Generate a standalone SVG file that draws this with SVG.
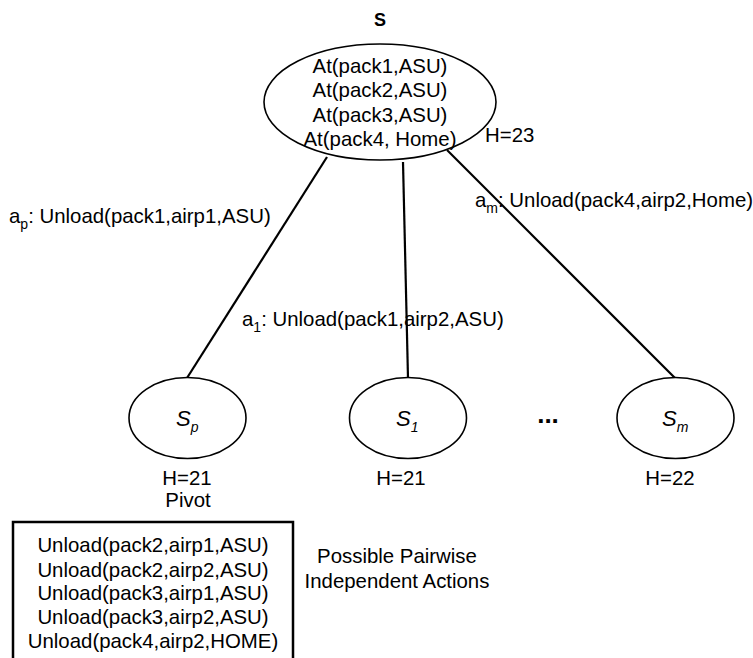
<svg xmlns="http://www.w3.org/2000/svg" width="753" height="658" viewBox="0 0 753 658">
  <style>
    text { font-family: "Liberation Sans", Arial, Helvetica, sans-serif; fill: #000; }
    .t { font-size: 20.4px; }
    .c { text-anchor: middle; }
    .node { fill: #fff; stroke: #000; stroke-width: 1.6; }
    .edge { stroke: #000; stroke-width: 2.2; fill: none; }
    .lbl { font-size: 22px; font-style: italic; }
    .sub { font-size: 14px; font-style: italic; }
  </style>
  <rect width="753" height="658" fill="#fff"/>

  <!-- connectors -->
  <g id="connectors">
    <line class="edge" x1="327" y1="157" x2="187" y2="378"/>
    <line class="edge" x1="403" y1="162" x2="408" y2="378"/>
    <line class="edge" x1="447" y1="150" x2="675" y2="378"/>
  </g>

  <!-- root state -->
  <g id="node-s">
    <text x="380" y="26" class="c" font-size="18" font-weight="bold">S</text>
    <ellipse class="node" cx="380" cy="102" rx="116" ry="58" fill="none"/>
    <text class="t c" x="380" y="73">At(pack1,ASU)</text>
    <text class="t c" x="380" y="97">At(pack2,ASU)</text>
    <text class="t c" x="380" y="122">At(pack3,ASU)</text>
    <text class="t c" x="380" y="146">At(pack4, Home)</text>
    <text class="t" x="485" y="142">H=23</text>
  </g>

  <!-- action labels -->
  <g id="edge-labels">
    <text class="t" x="9" y="223">a<tspan font-size="14" dy="6">p</tspan><tspan dy="-6">: Unload(pack1,airp1,ASU)</tspan></text>
    <text class="t" x="475" y="207">a<tspan font-size="14" dy="6">m</tspan><tspan dy="-6">: Unload(pack4,airp2,Home)</tspan></text>
    <text class="t" x="242" y="326">a<tspan font-size="14" dy="6">1</tspan><tspan dy="-6">: Unload(pack1,airp2,ASU)</tspan></text>
  </g>

  <!-- child states -->
  <g id="node-sp">
    <ellipse class="node" cx="187.5" cy="418" rx="58.5" ry="40.5"/>
    <text x="176" y="426" class="lbl">S<tspan class="sub" dy="6">p</tspan></text>
    <text class="t c" x="187" y="485">H=21</text>
    <text class="t c" x="188" y="507">Pivot</text>
  </g>

  <g id="node-s1">
    <ellipse class="node" cx="408" cy="418" rx="58.5" ry="40.5"/>
    <text x="396" y="426" class="lbl">S<tspan class="sub" dy="6">1</tspan></text>
    <text class="t c" x="401" y="485">H=21</text>
  </g>

  <text x="548" y="423" class="c" font-size="26" font-weight="bold">...</text>

  <g id="node-sm">
    <ellipse class="node" cx="675.5" cy="418" rx="58.5" ry="40.5"/>
    <text x="662" y="426" class="lbl">S<tspan class="sub" dy="6">m</tspan></text>
    <text class="t c" x="670" y="485">H=22</text>
  </g>

  <!-- independent actions -->
  <g id="node-actions">
    <rect x="13" y="522" width="280" height="145" fill="#fff" stroke="#000" stroke-width="2.5"/>
    <text class="t c" x="153" y="552">Unload(pack2,airp1,ASU)</text>
    <text class="t c" x="153" y="577">Unload(pack2,airp2,ASU)</text>
    <text class="t c" x="153" y="600">Unload(pack3,airp1,ASU)</text>
    <text class="t c" x="153" y="624">Unload(pack3,airp2,ASU)</text>
    <text class="t c" x="153" y="648">Unload(pack4,airp2,HOME)</text>
  </g>

  <g id="note">
    <text class="t c" x="397" y="563">Possible Pairwise</text>
    <text class="t c" x="397" y="588">Independent Actions</text>
  </g>
</svg>
